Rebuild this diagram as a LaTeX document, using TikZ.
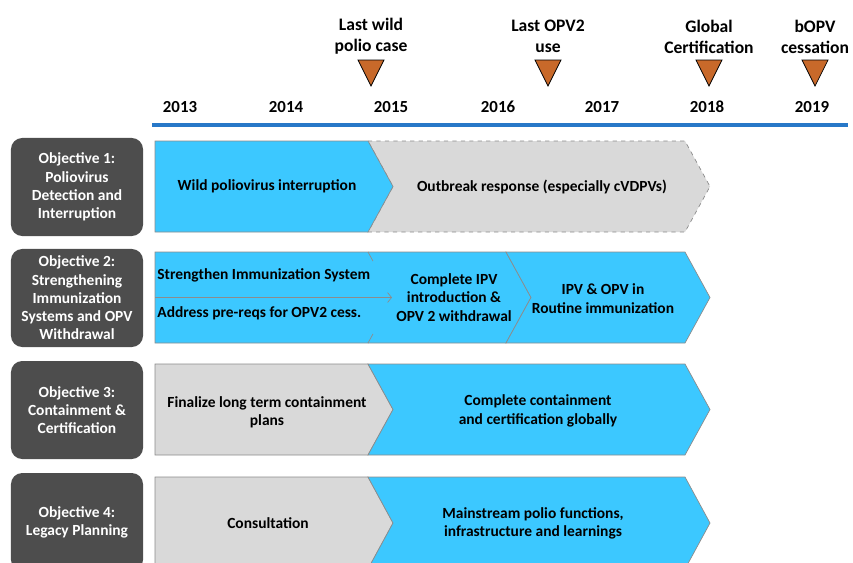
\documentclass[tikz,border=0pt]{standalone}
\usepackage{fontspec}
\setmainfont{Carlito}
\usetikzlibrary{arrows.meta,positioning}
\definecolor{PolioBlue}{HTML}{3CC8FF}
\definecolor{PolioGrey}{HTML}{D9D9D9}
\definecolor{PolioEdge}{HTML}{8C8C8C}
\definecolor{PolioDark}{HTML}{4D4D4D}
\definecolor{PolioOrange}{HTML}{C8692A}
\definecolor{PolioLine}{HTML}{2878C8}

\begin{document}
\begin{tikzpicture}[x=0.025cm,y=-0.025cm,
    font=\bfseries\fontsize{11}{13}\selectfont,
    objbox/.style={fill=PolioDark,text=white,rounded corners=8pt,minimum width=3.3cm,minimum height=2.45cm,align=center,inner sep=1pt},
    bluechev/.style={fill=PolioBlue,draw=PolioEdge,line width=0.5pt},
    greychev/.style={fill=PolioGrey,draw=PolioEdge,line width=0.5pt},
    edge/.style={draw=PolioEdge,line width=0.5pt},
    txt/.style={align=center,inner sep=1pt},
    tri/.style={fill=PolioOrange,draw=black,line width=0.5pt},
    year/.style={font=\bfseries\fontsize{12}{14}\selectfont},
    event/.style={font=\bfseries\fontsize{12.5}{15}\selectfont,align=center}
  ]
    \useasboundingbox (0,0) rectangle (853,562);
    \clip (0,0) rectangle (853,562);

    % timeline
    \foreach \x/\yr in {180/2013,286/2014,391/2015,498/2016,602/2017,707/2018,812/2019}
      \node[year] (y\yr) at (\x,107) {\yr};
    \coordinate (tl-start) at (152,125);
    \coordinate (tl-end) at (848,125);
    \draw[PolioLine,line width=2.2pt] (tl-start) -- (tl-end);

    % milestones
    \foreach \x/\n/\lbl in {371/wild/{Last wild\\polio case},548/opv/{Last OPV2\\use},709/cert/{Global\\Certification},815/bopv/{bOPV\\cessation}} {
      \node[event] (ev-\n) at (\x,36.5) {\lbl};
      \draw[tri] (\x-13,60) -- (\x+13,60) -- (\x,86) -- cycle;
    }

    % objectives
    \node[objbox] (obj1) at (77,187) {Objective 1:\\Poliovirus\\Detection and\\Interruption};
    \node[objbox] (obj2) at (77,298) {Objective 2:\\Strengthening\\Immunization\\Systems and OPV\\Withdrawal};
    \node[objbox] (obj3) at (77,410) {Objective 3:\\Containment \&\\Certification};
    \node[objbox] (obj4) at (77,522) {Objective 4:\\Legacy Planning};

    % row 1
    \draw[greychev,dashed] (368,141) -- (685,141) -- (710,186.5) -- (685,232) -- (368,232) -- (393,186.5) -- cycle;
    \draw[bluechev] (155,141) -- (368,141) -- (393,186.5) -- (368,232) -- (155,232) -- cycle;
    \node[txt] (wild) at (267,186.5) {Wild poliovirus interruption};
    \node[txt] (outbreak) at (542,186.5) {Outbreak response (especially cVDPVs)};

    % row 2
    \draw[bluechev] (155,252) -- (368,252) -- (393,297.5) -- (368,343) -- (155,343) -- cycle;
    \path[fill=PolioBlue,edge] (368,252) -- (506,252) -- (531,297.5) -- (506,343) -- (368,343);
    \draw[edge] (368,252) -- (373,261.1);
    \draw[edge] (373,333.9) -- (368,343);
    \draw[bluechev] (506,252) -- (685,252) -- (710,297.5) -- (685,343) -- (506,343) -- (531,297.5) -- cycle;
    \coordinate (split-l) at (155,297.5);
    \coordinate (split-r) at (392,297.5);
    \draw[edge,-{Straight Barb[length=1mm,width=2.5mm]}] (split-l) -- (split-r);
    \node[anchor=west,inner sep=1.5pt] (strengthen) at (155,275) {Strengthen Immunization System};
    \node[anchor=west,inner sep=1.5pt] (prereq) at (155,313) {Address pre-reqs for OPV2 cess.};
    \node[txt] (ipvintro) at (454,297.5) {Complete IPV\\introduction \&\\OPV 2 withdrawal};
    \node[txt] (routine) at (603,298.5) {IPV \& OPV in\\Routine immunization};

    % row 3
    \draw[greychev] (155,364) -- (368,364) -- (393,409.5) -- (368,455) -- (155,455) -- cycle;
    \draw[bluechev] (368,364) -- (685,364) -- (710,409.5) -- (685,455) -- (368,455) -- (393,409.5) -- cycle;
    \node[txt] (finalize) at (267,412) {Finalize long term containment\\plans};
    \node[txt] (contain) at (538,411) {Complete containment\\and certification globally};

    % row 4
    \draw[greychev] (155,477) -- (368,477) -- (393,523) -- (368,569) -- (155,569) -- cycle;
    \draw[bluechev] (368,477) -- (685,477) -- (710,523) -- (685,569) -- (368,569) -- (393,523) -- cycle;
    \node[txt] (consult) at (268,523) {Consultation};
    \node[txt] (mainstream) at (533,523.5) {Mainstream polio functions,\\infrastructure and learnings};
  \end{tikzpicture}
\end{document}
